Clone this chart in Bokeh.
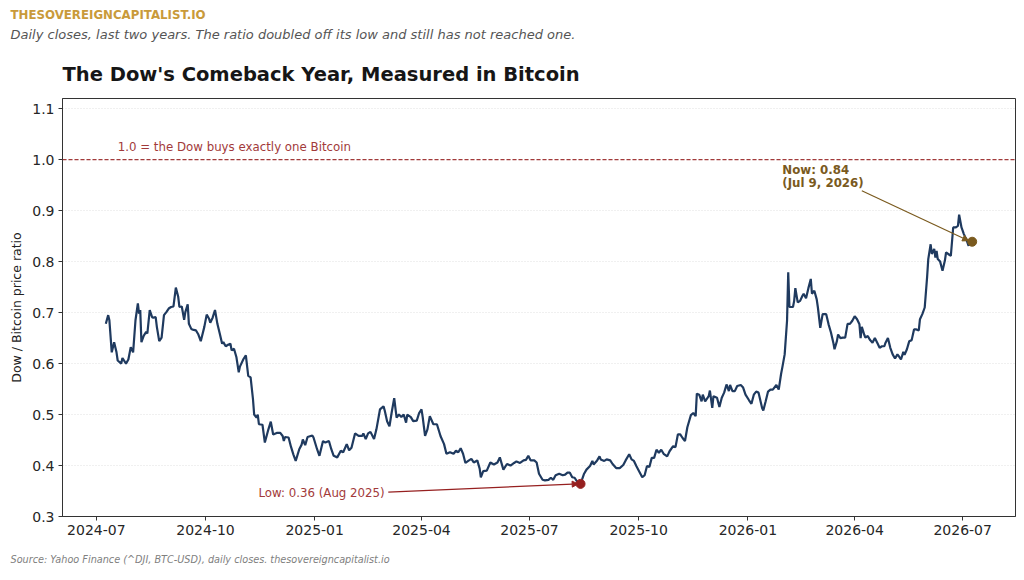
import pandas as pd
from bokeh.plotting import figure
from bokeh.models import (Range1d, Span, Label, Arrow, NormalHead, FixedTicker, Title,
                          DatetimeTickFormatter, NumeralTickFormatter)
from bokeh.embed import file_html
from bokeh.resources import INLINE

# ---------------- data ----------------
START = "2024-07-01"
day_offset = [
    8, 10, 11, 13, 15, 17, 18, 21, 22, 25, 27, 29, 31, 33, 35, 36, 37, 38, 40, 42,
    43, 45, 47, 48, 50, 51, 53, 55, 57, 59, 61, 63, 65, 67, 69, 70, 72, 74, 75, 77,
    78, 80, 82, 84, 86, 88, 91, 93, 95, 96, 98, 100, 102, 104, 106, 107, 109, 111, 113, 114,
    116, 118, 120, 121, 124, 126, 128, 130, 132, 133, 135, 136, 137, 140, 142, 145, 147, 149, 152, 155,
    157, 158, 159, 162, 164, 166, 168, 171, 173, 174, 176, 178, 182,
    183, 186, 188, 191, 193, 196, 198, 200, 203, 206, 208, 211, 213, 215, 218, 221, 224, 225, 227, 229,
    231, 234, 236, 239, 242, 243, 245, 247, 249, 251, 253, 255, 257, 259, 261, 262, 265, 267, 270, 272,
    274, 275, 277, 279, 281, 284, 287, 290, 293, 295, 298, 301, 303, 305, 307, 309, 311, 314, 316, 318,
    321, 323, 324, 326, 329, 332, 335, 338, 340, 343, 346, 349, 352, 354, 357, 360, 362, 364, 366, 369,
    371, 373,
    376, 378, 381, 383, 385, 387, 390, 393, 395, 397, 399, 401, 403, 405, 408, 411, 413, 416, 418, 419,
    422, 424, 425, 428, 430, 433, 435, 438, 441, 444, 446, 449, 451, 453, 455, 458, 460, 462, 464, 466,
    468, 470, 472, 474, 476, 478, 481, 483, 486, 488, 490, 492, 494, 496, 498, 501, 503, 505, 506, 508,
    510, 511, 513, 516, 517, 519, 520, 523, 525, 527, 529, 531, 533, 534, 536, 538, 540, 543, 545, 547,
    550, 552, 554, 556, 558,
    561, 562, 564, 566, 568, 570, 573, 575, 577, 578, 580, 581, 582, 583, 584, 587, 588, 589, 591, 593,
    595, 596, 598, 600, 602, 603, 605, 607, 608, 610, 612, 615, 617, 619, 621, 622, 624, 625, 627, 629,
    631, 633, 635, 637, 639, 641, 643, 644, 645, 647, 648, 650, 652, 654, 656, 658, 660, 662, 664, 665,
    667, 669, 671, 673, 675, 676, 678, 680, 681, 683, 685, 687, 689, 691, 693, 694, 696, 698, 700, 701,
    703, 704, 706, 707, 708, 709, 711, 713, 715, 716, 719, 720, 722, 724, 726, 727, 729, 731, 733, 735,
    736, 738,
]
ratio = [
    0.678, 0.695, 0.685, 0.622, 0.642, 0.622, 0.606, 0.600, 0.611, 0.600, 0.608, 0.632, 0.622, 0.685, 0.718, 0.698, 0.705, 0.642, 0.655, 0.662,
    0.659, 0.705, 0.691, 0.690, 0.691, 0.672, 0.644, 0.651, 0.695, 0.701, 0.708, 0.711, 0.712, 0.749, 0.731, 0.711, 0.712, 0.686, 0.701, 0.716,
    0.678, 0.668, 0.666, 0.665, 0.657, 0.644, 0.672, 0.696, 0.688, 0.680, 0.690, 0.705, 0.678, 0.659, 0.639, 0.642, 0.634, 0.637, 0.639, 0.626,
    0.629, 0.613, 0.583, 0.594, 0.609, 0.616, 0.576, 0.573, 0.530, 0.500, 0.494, 0.500, 0.481, 0.480, 0.445, 0.471, 0.486, 0.461, 0.464, 0.464,
    0.458, 0.448, 0.456, 0.455, 0.437, 0.422, 0.409, 0.432, 0.441, 0.451, 0.440, 0.456, 0.459,
    0.455, 0.432, 0.419, 0.448, 0.445, 0.448, 0.432, 0.419, 0.416, 0.429, 0.426, 0.442, 0.430, 0.435, 0.463, 0.458, 0.458, 0.463, 0.452, 0.463,
    0.466, 0.452, 0.471, 0.510, 0.516, 0.508, 0.487, 0.477, 0.506, 0.532, 0.494, 0.500, 0.495, 0.500, 0.484, 0.500, 0.495, 0.487, 0.488, 0.503,
    0.510, 0.495, 0.458, 0.471, 0.497, 0.481, 0.481, 0.458, 0.442, 0.423, 0.426, 0.423, 0.429, 0.426, 0.434, 0.423, 0.405, 0.410, 0.413, 0.406,
    0.410, 0.394, 0.377, 0.389, 0.390, 0.406, 0.402, 0.406, 0.416, 0.392, 0.403, 0.400, 0.405, 0.408, 0.405, 0.410, 0.411, 0.419, 0.410, 0.410,
    0.406, 0.384,
    0.372, 0.371, 0.372, 0.376, 0.372, 0.381, 0.384, 0.381, 0.382, 0.386, 0.386, 0.377, 0.376, 0.369, 0.364, 0.384, 0.392, 0.399, 0.409, 0.402,
    0.410, 0.418, 0.412, 0.409, 0.412, 0.410, 0.403, 0.395, 0.395, 0.401, 0.410, 0.422, 0.412, 0.409, 0.399, 0.386, 0.377, 0.381, 0.399, 0.397,
    0.415, 0.415, 0.431, 0.425, 0.431, 0.423, 0.418, 0.428, 0.438, 0.436, 0.461, 0.461, 0.454, 0.448, 0.475, 0.499, 0.503, 0.497, 0.541, 0.539,
    0.526, 0.539, 0.526, 0.536, 0.547, 0.513, 0.536, 0.533, 0.515, 0.533, 0.543, 0.559, 0.546, 0.558, 0.546, 0.546, 0.556, 0.558, 0.553, 0.539,
    0.528, 0.521, 0.539, 0.545, 0.543,
    0.513, 0.508, 0.526, 0.545, 0.549, 0.549, 0.558, 0.549, 0.580, 0.592, 0.618, 0.651, 0.684, 0.779, 0.711, 0.711, 0.723, 0.748, 0.720, 0.723,
    0.733, 0.737, 0.728, 0.748, 0.766, 0.737, 0.743, 0.726, 0.710, 0.670, 0.697, 0.697, 0.677, 0.661, 0.641, 0.628, 0.644, 0.657, 0.650, 0.651,
    0.651, 0.678, 0.678, 0.684, 0.693, 0.687, 0.677, 0.650, 0.672, 0.657, 0.651, 0.654, 0.646, 0.641, 0.650, 0.641, 0.631, 0.634, 0.634, 0.641,
    0.650, 0.631, 0.618, 0.610, 0.618, 0.615, 0.608, 0.623, 0.617, 0.628, 0.644, 0.646, 0.667, 0.667, 0.665, 0.687, 0.697, 0.710, 0.769, 0.805,
    0.834, 0.815, 0.825, 0.808, 0.821, 0.805, 0.800, 0.782, 0.802, 0.818, 0.813, 0.811, 0.867, 0.867, 0.870, 0.892, 0.867, 0.854, 0.844, 0.831,
    0.840, 0.839,
]
y_ticks = [0.3, 0.4, 0.5, 0.6, 0.7, 0.8, 0.9, 1.0, 1.1]
x_tick_labels = ["2024-07", "2024-10", "2025-01", "2025-04", "2025-07",
                 "2025-10", "2026-01", "2026-04", "2026-07"]
parity_level = 1.0

header_text = "THESOVEREIGNCAPITALIST.IO"
subtitle_text = "Daily closes, last two years. The ratio doubled off its low and still has not reached one."
title_text = "The Dow's Comeback Year, Measured in Bitcoin"
footer_text = "Source: Yahoo Finance (^DJI, BTC-USD), daily closes. thesovereigncapitalist.io"
parity_text = "1.0 = the Dow buys exactly one Bitcoin"
y_label = "Dow / Bitcoin price ratio"

# ---------------- derived ----------------
dates = pd.Timestamp(START) + pd.to_timedelta(day_offset, unit="D")
s = pd.Series(ratio, index=dates)


def ms(ts):
    return pd.Timestamp(ts).value / 1e6


low_date = s.idxmin()
low_val = s.min()
now_date = s.index[-1]
now_val = s.iloc[-1]

t0, t1 = ms(dates[0]), ms(dates[-1])
pad = 0.05 * (t1 - t0)

FONT = "DejaVu Sans"
NAVY = "#1f3a5f"
RED = "#a23a3a"
LOWRED = "#962020"
GOLD = "#c99a3a"
BROWN = "#7a5a1e"
DAY = 86400000.0
ANN = "11.8px"

p = figure(width=1020, height=580, x_axis_type="datetime",
           output_backend="svg", toolbar_location=None,
           min_border_left=62, min_border_right=5,
           min_border_top=98, min_border_bottom=64,
           x_range=Range1d(t0 - pad, t1 + pad), y_range=Range1d(0.3, 1.12))
p.background_fill_color = "white"
p.border_fill_color = "white"
p.outline_line_color = "#333333"
p.outline_line_width = 1

# axes
p.xaxis.ticker = FixedTicker(ticks=[ms(pd.Timestamp(t + "-01")) for t in x_tick_labels])
fmt = "%Y-%m"
p.xaxis.formatter = DatetimeTickFormatter(years=fmt, months=fmt, days=fmt, hours=fmt,
                                          minutes=fmt, seconds=fmt, milliseconds=fmt,
                                          minsec=fmt, hourmin=fmt)
p.yaxis.ticker = FixedTicker(ticks=y_ticks)
p.yaxis.formatter = NumeralTickFormatter(format="0.0")
for ax in (p.xaxis, p.yaxis):
    ax.major_label_text_font = FONT
    ax.major_label_text_font_size = "14px"
    ax.major_label_text_color = "#262626"
    ax.axis_line_color = "#333333"
    ax.major_tick_line_color = "#333333"
    ax.major_tick_out = 4
    ax.major_tick_in = 0
    ax.minor_tick_line_color = None
    ax.major_label_standoff = 4
p.yaxis.axis_label = y_label
p.yaxis.axis_label_text_font = FONT
p.yaxis.axis_label_text_font_size = "12.5px"
p.yaxis.axis_label_text_font_style = "normal"
p.yaxis.axis_label_text_color = "#222222"
p.yaxis.axis_label_standoff = 5

p.xgrid.grid_line_color = None
p.ygrid.grid_line_color = "#e0e0e0"
p.ygrid.grid_line_dash = "1 2"
p.ygrid.grid_line_width = 1

# parity line
p.add_layout(Span(location=parity_level, dimension="width", line_color=RED,
                  line_dash="4 2", line_width=1.3))
p.add_layout(Label(x=t0 + 10 * DAY, y=parity_level + 0.025, text=parity_text,
                   text_font=FONT, text_font_size=ANN, text_color=RED,
                   text_baseline="middle", text_align="left"))

# main line
p.line(dates, ratio, line_color=NAVY, line_width=2.2)

# low annotation
low_ms = ms(low_date)
p.add_layout(Arrow(end=NormalHead(size=6, fill_color=LOWRED, line_color=LOWRED),
                   x_start=low_ms - 162 * DAY, y_start=low_val - 0.016,
                   x_end=low_ms - 2 * DAY, y_end=low_val,
                   line_color=LOWRED, line_width=1.2))
p.scatter([low_date], [low_val], size=9, color=LOWRED)
p.add_layout(Label(x=low_ms - 165 * DAY, y=low_val - 0.017,
                   text=f"Low: {low_val:.2f} ({low_date:%b %Y})",
                   text_font=FONT, text_font_size=ANN, text_color=RED,
                   text_baseline="middle", text_align="right"))

# now annotation
now_ms = ms(now_date)
p.add_layout(Arrow(end=NormalHead(size=6, fill_color=BROWN, line_color=BROWN),
                   x_start=now_ms - 93 * DAY, y_start=now_val + 0.100,
                   x_end=now_ms - 3 * DAY, y_end=now_val + 0.002,
                   line_color=BROWN, line_width=1.2))
p.scatter([now_date], [now_val], size=9, color=BROWN)
p.add_layout(Label(x=now_ms - 160 * DAY, y=now_val + 0.141, text=f"Now: {now_val:.2f}",
                   text_font=FONT, text_font_size=ANN, text_font_style="bold",
                   text_color=BROWN, text_baseline="middle", text_align="left"))
p.add_layout(Label(x=now_ms - 160 * DAY, y=now_val + 0.116,
                   text=f"({now_date:%b} {now_date.day}, {now_date.year})",
                   text_font=FONT, text_font_size=ANN, text_font_style="bold",
                   text_color=BROWN, text_baseline="middle", text_align="left"))

# titles (stacked outward from the frame), footer below
def add_title(text, size, color, style, standoff, offset, where="above"):
    p.add_layout(Title(text=text, align="left", offset=offset, standoff=standoff,
                       text_font=FONT, text_font_size=size, text_color=color,
                       text_font_style=style), where)

add_title(title_text, "19.5px", "#161616", "bold", 25, 0)
add_title(subtitle_text, "13px", "#555555", "italic", 13, -52)
add_title(header_text, "11.8px", GOLD, "bold", -6, -52)
add_title(footer_text, "9.7px", "#808080", "italic", 28, -52, "below")

open("out.html", "w").write(file_html(p, INLINE))
